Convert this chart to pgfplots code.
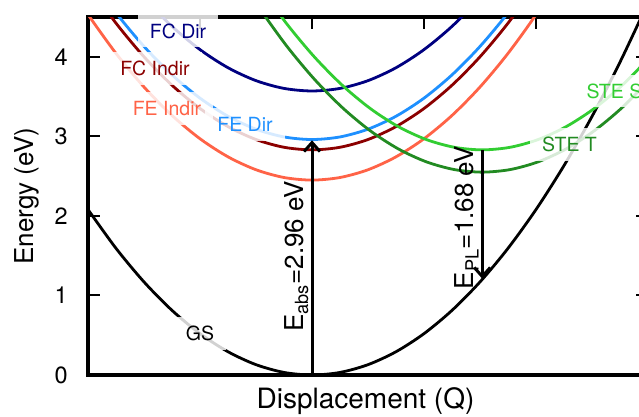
\documentclass[border=0pt]{standalone}
\usepackage{fontspec}
\setmainfont{TeX Gyre Heros}
\usepackage{pgfplots}
\pgfplotsset{compat=1.18}
\usetikzlibrary{arrows.meta}
\definecolor{cnavy}{RGB}{0,0,128}
\definecolor{cdodger}{RGB}{30,144,255}
\definecolor{cdarkred}{RGB}{139,0,0}
\definecolor{ctomato}{RGB}{255,99,71}
\definecolor{clime}{RGB}{50,205,50}
\definecolor{cforest}{RGB}{34,139,34}
\tikzset{lbl/.style={font=\fontsize{19.5}{23}\selectfont, fill=white, fill opacity=0.82, text opacity=1, inner xsep=12pt, inner ysep=9pt}}
\begin{document}
\begin{tikzpicture}
\begin{axis}[
 at={(88pt,41pt)}, anchor=south west,
 scale only axis, width=560pt, height=358pt,
 xmin=0, xmax=5, ymin=0, ymax=4.5,
 xtick={0,1,2,3,4,5}, xticklabels={}, xtick pos=right,
 ytick={0,1,2,3,4}, ytick pos=both,
 tick align=inside, major tick length=12pt,
 every tick/.style={line width=2pt, black},
 axis line style={line width=3.2pt},
 /pgf/number format/assume math mode=true,
 yticklabel style={font=\fontsize{23.5}{28}\selectfont, inner sep=0pt, xshift=-20pt},
 xlabel={Displacement (Q)}, ylabel={Energy (eV)},
 ylabel style={font=\fontsize{26}{31}\selectfont, at={(axis description cs:-0.0982,0.5)}, anchor=base},
 xlabel style={font=\fontsize{28}{33}\selectfont, at={(axis description cs:0.4955,-0.0922)}, anchor=base},
 clip mode=individual,
]
% GS
\addplot[black, line width=2.8pt, smooth] coordinates {
(0,2.08) (0.25,1.5925) (0.5,1.17) (0.75,0.8125) (1,0.52) (1.25,0.2925) (1.5,0.13) (1.75,0.0325) (2,0)
(2.25,0.0325) (2.5,0.13) (2.75,0.2925) (3,0.52) (3.25,0.8125) (3.5,1.17) (3.75,1.5925) (4,2.08)
(4.25,2.6325) (4.5,3.25) (4.75,3.9325) (5,4.68)};
% FE Indir
\addplot[ctomato, line width=2.8pt, smooth] coordinates {
(0,4.53) (0.25,4.0425) (0.5,3.62) (0.75,3.2625) (1,2.97) (1.25,2.7425) (1.5,2.58) (1.75,2.4825) (2,2.45)
(2.25,2.4825) (2.5,2.58) (2.75,2.7425) (3,2.97) (3.25,3.2625) (3.5,3.62) (3.75,4.0425) (4,4.53) (4.25,5.0825)};
% FC Indir
\addplot[cdarkred, line width=2.8pt, smooth] coordinates {
(0,4.91) (0.25,4.4225) (0.5,4.0) (0.75,3.6425) (1,3.35) (1.25,3.1225) (1.5,2.96) (1.75,2.8625) (2,2.83)
(2.25,2.8625) (2.5,2.96) (2.75,3.1225) (3,3.35) (3.25,3.6425) (3.5,4.0) (3.75,4.4225) (4,4.91)};
% FE Dir
\addplot[cdodger, line width=2.8pt, smooth] coordinates {
(0,5.04) (0.25,4.5525) (0.5,4.13) (0.75,3.7725) (1,3.48) (1.25,3.2525) (1.5,3.09) (1.75,2.9925) (2,2.96)
(2.25,2.9925) (2.5,3.09) (2.75,3.2525) (3,3.48) (3.25,3.7725) (3.5,4.13) (3.75,4.5525) (4,5.04)};
% FC Dir
\addplot[cnavy, line width=2.8pt, smooth] coordinates {
(0.25,5.1625) (0.5,4.74) (0.75,4.3825) (1,4.09) (1.25,3.8625) (1.5,3.70) (1.75,3.6025) (2,3.57)
(2.25,3.6025) (2.5,3.70) (2.75,3.8625) (3,4.09) (3.25,4.3825) (3.5,4.74) (3.75,5.1625)};
% STE T
\addplot[cforest, line width=2.8pt, smooth] coordinates {
(1.52,4.63) (1.77,4.1425) (2.02,3.72) (2.27,3.3625) (2.52,3.07) (2.77,2.8425) (3.02,2.68) (3.27,2.5825) (3.52,2.55)
(3.77,2.5825) (4.02,2.68) (4.27,2.8425) (4.52,3.07) (4.77,3.3625) (5.02,3.72)};
% STE S
\addplot[clime, line width=2.8pt, smooth] coordinates {
(1.52,4.91) (1.77,4.4225) (2.02,4.0) (2.27,3.6425) (2.52,3.35) (2.77,3.1225) (3.02,2.96) (3.27,2.8625) (3.52,2.83)
(3.77,2.8625) (4.02,2.96) (4.27,3.1225) (4.52,3.35) (4.77,3.6425) (5.02,4.0)};
% labels
\node[lbl, text=cnavy] at (axis cs:0.804,4.324) {FC Dir};
\node[lbl, text=cdarkred] at (axis cs:0.598,3.852) {FC Indir};
\node[lbl, text=ctomato] at (axis cs:0.705,3.35) {FE Indir};
\node[lbl, text=cdodger] at (axis cs:1.402,3.149) {FE Dir};
\node[lbl, text=clime] at (axis cs:4.70,3.57) {STE S};
\node[lbl, text=cforest] at (axis cs:4.299,2.903) {STE T};
\node[lbl, text=black] at (axis cs:1.0,0.52) {GS};
% arrows
\addplot[black, line width=3pt, -{Straight Barb[length=9pt,width=16pt]}] coordinates {(2,0) (2,2.95)};
\addplot[black, line width=3pt, -{Straight Barb[length=9pt,width=16pt]}] coordinates {(3.52,2.83) (3.52,1.21)};
\node[rotate=90, anchor=south, inner sep=0pt, font=\fontsize{26}{31}\selectfont] at (axis cs:1.97,1.49) {E\textsubscript{abs}=2.96 eV};
\node[rotate=90, anchor=south, inner sep=0pt, font=\fontsize{26}{31}\selectfont] at (axis cs:3.49,1.98) {E\textsubscript{PL}=1.68 eV};
\end{axis}
\pgfresetboundingbox
\useasboundingbox (0,0) rectangle (639pt,416pt);
\end{tikzpicture}
\end{document}
